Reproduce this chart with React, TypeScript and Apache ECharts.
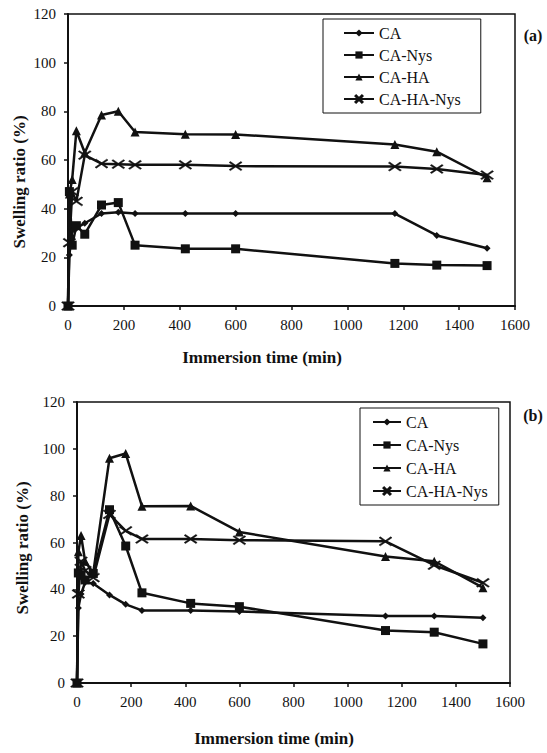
import React, { useEffect, useRef } from "react";
import * as echarts from "echarts";

const seriesNames = ["CA", "CA-Nys", "CA-HA", "CA-HA-Nys"];

const timesA = [0, 5, 15, 30, 60, 120, 180, 240, 420, 600, 1170, 1320, 1500];
const caA = [0, 21, 31, 32, 34, 38, 38.5, 38, 38, 38, 38, 29, 23.7];
const caNysA = [0, 47, 25, 33, 29.5, 41.5, 42.5, 25, 23.5, 23.5, 17.5, 16.8, 16.6];
const caHaA = [0, 46, 52, 72, 63, 78.5, 80, 71.5, 70.6, 70.5, 66.4, 63.4, 52.7];
const caHaNysA = [0, 26, 47, 43, 62, 58.5, 58.3, 58, 58, 57.5, 57.3, 56.3, 53.8];

const timesB = [0, 5, 15, 30, 60, 120, 180, 240, 420, 600, 1140, 1320, 1500];
const caB = [0, 32, 38, 43, 42.5, 37.6, 33.6, 31, 31, 30.5, 28.6, 28.6, 27.9];
const caNysB = [0, 47, 46, 44, 46.8, 74, 58.5, 38.5, 34, 32.6, 22.4, 21.7, 16.7];
const caHaB = [0, 56, 63, 52, 47, 96, 98, 75.5, 75.6, 64.5, 54, 52, 40.7];
const caHaNysB = [0, 38, 52, 48, 45, 72, 65, 61.5, 61.5, 61, 60.5, 50.3, 42.8];

const xTitle = "Immersion time (min)";
const yTitle = "Swelling ratio (%)";

const FONT = "Liberation Serif";
const INK = "#111";

const X_PATH = "path://M0,1 L1,0 L5,4 L9,0 L10,1 L6,5 L10,9 L9,10 L5,6 L1,10 L0,9 L4,5 Z";
const symbols: any[] = ["diamond", "rect", "triangle", X_PATH];
const symbolSizes: any[] = [7, 9, 9, [13, 9]];

function zip(t: number[], v: number[]) {
  return t.map((x, i) => [x, v[i]]);
}

export default function App() {
  const ref = useRef<HTMLDivElement>(null);
  useEffect(() => {
    if (!ref.current) return;
    const chart = echarts.init(ref.current, undefined, { renderer: "svg" });
    const dataA = [caA, caNysA, caHaA, caHaNysA];
    const dataB = [caB, caNysB, caHaB, caHaNysB];
    const mkSeries = (vals: number[][], times: number[], idx: number) =>
      vals.map((v, i) => ({
        name: seriesNames[i],
        type: "line",
        xAxisIndex: idx,
        yAxisIndex: idx,
        data: zip(times, v),
        symbol: symbols[i],
        symbolSize: symbolSizes[i],
        showAllSymbol: true,
        lineStyle: { color: INK, width: 2.5 },
        itemStyle: { color: INK, borderColor: INK, borderWidth: i === 3 ? 0.5 : 0 },
        emphasis: { disabled: true },
        z: 3,
      }));
    const axisCommon = {
      axisLine: { show: true, onZero: false, lineStyle: { color: INK, width: 2 } },
      axisTick: { show: true, inside: false, length: 4, lineStyle: { color: INK, width: 1.5 } },
      splitLine: { show: false },
      axisLabel: { color: INK, fontFamily: FONT, fontSize: 15, formatter: (v: number) => String(v) },
    };
    const legendCommon = {
      orient: "vertical",
      data: seriesNames,
      borderColor: INK,
      borderWidth: 1,
      itemWidth: 30,
      itemHeight: 9,
      textStyle: { color: INK, fontFamily: FONT, fontSize: 16 },
      backgroundColor: "#fff",
      selectedMode: false,
    };
    const titleStyle = (text: string, size = 17) => ({
      text,
      fontFamily: FONT,
      fontWeight: "bold",
      fontSize: size,
      fill: INK,
      align: "center",
      verticalAlign: "middle",
    });
    chart.setOption({
      animation: false,
      backgroundColor: "#fff",
      grid: [
        { left: 68, top: 14, width: 447, height: 292, show: true, borderColor: INK, borderWidth: 1.5, backgroundColor: "transparent" },
        { left: 77, top: 402, width: 433, height: 281, show: true, borderColor: INK, borderWidth: 1.5, backgroundColor: "transparent" },
      ],
      xAxis: [0, 1].map((g) => ({
        type: "value",
        gridIndex: g,
        min: 0,
        max: 1600,
        interval: 200,
        ...axisCommon,
        axisLabel: { ...axisCommon.axisLabel, margin: 11 },
      })),
      yAxis: [0, 1].map((g) => ({
        type: "value",
        gridIndex: g,
        min: 0,
        max: 120,
        interval: 20,
        ...axisCommon,
        axisLabel: { ...axisCommon.axisLabel, margin: 12 },
      })),
      legend: [
        { ...legendCommon, left: 323, top: 19, padding: [6, 20, 6, 20], itemGap: 6 },
        { ...legendCommon, left: 360, top: 408, padding: [6, 11, 6, 12], itemGap: 7, itemWidth: 28 },
      ],
      series: [...mkSeries(dataA, timesA, 0), ...mkSeries(dataB, timesB, 1)],
      graphic: [
        { type: "text", x: 262, y: 357, style: titleStyle(xTitle) },
        { type: "text", x: 274, y: 738, style: titleStyle(xTitle) },
        { type: "text", x: 19, y: 182, rotation: Math.PI / 2, style: titleStyle(yTitle) },
        { type: "text", x: 22, y: 548, rotation: Math.PI / 2, style: titleStyle(yTitle) },
        { type: "text", x: 533, y: 35, style: titleStyle("(a)", 16) },
        { type: "text", x: 533, y: 415, style: titleStyle("(b)", 16) },
      ],
    });
    return () => chart.dispose();
  }, []);
  return <div ref={ref} style={{ position: "absolute", left: 0, top: 0, width: 547, height: 753 }} />;
}
